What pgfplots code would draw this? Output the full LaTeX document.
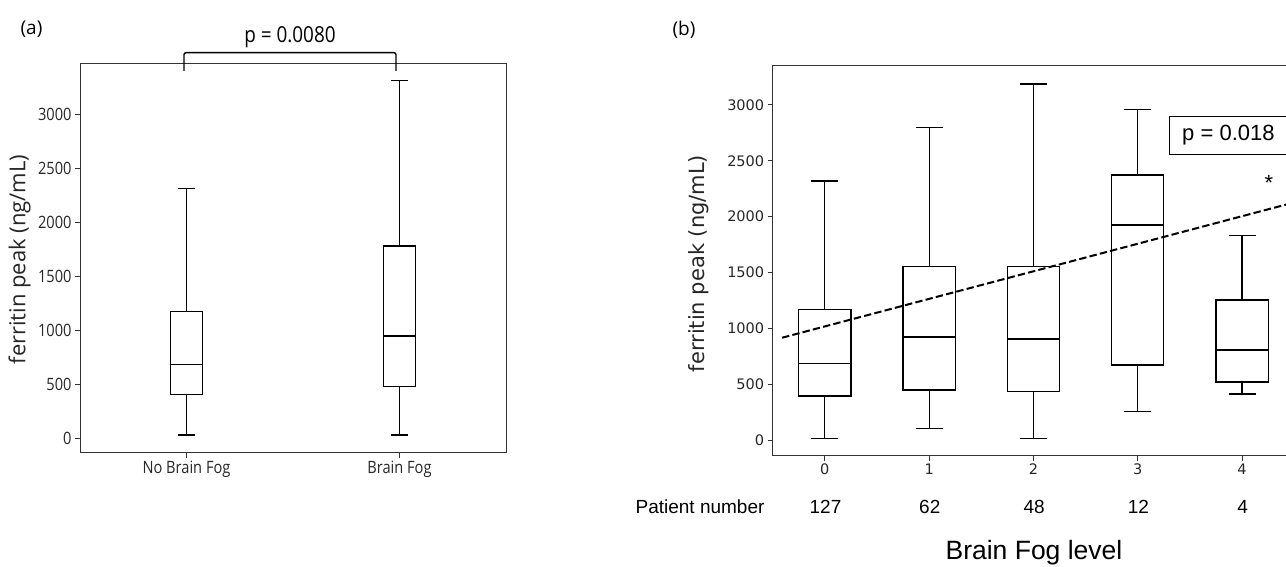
\documentclass[border=0pt]{standalone}
\usepackage{fontspec}
\usepackage{graphicx}
\usepackage{pgfplots}
\pgfplotsset{compat=1.18}
\usepgfplotslibrary{statistics}
\newfontfamily\osans{Open Sans}
\newfontfamily\dvs{DejaVu Sans}
\newfontfamily\lsans{Liberation Sans}
\newcommand\fs[1]{\fontsize{#1}{#1}\selectfont}
\newcommand\sx[1]{\scalebox{0.86}[1]{#1}}

\pgfplotsset{
  panel/.style={
    scale only axis, clip=false,
    axis line style={line width=1pt, black!80},
    tick style={line width=0.8pt, black!80},
    major tick length=5pt, tick align=outside,
    xtick pos=left, ytick pos=left,
    ytick={0,500,...,3000},
    /pgf/number format/assume math mode=true,
    /pgf/number format/1000 sep={},
    boxplot/draw direction=y,
  },
  bx/.style={draw=black, line width=1.2pt, solid, mark=none},
}

\begin{document}
\begin{tikzpicture}[x=1pt,y=1pt]
% panel (a)
\begin{axis}[panel, at={(80pt,113.3pt)}, anchor=south west,
  width=426pt, height=389.4pt,
  xmin=0.5, xmax=2.5, ymin=-136, ymax=3469,
  xtick={1,2}, xticklabels={\sx{No Brain Fog},\sx{Brain Fog}},
  yticklabel={\sx{\pgfmathprintnumber{\tick}}},
  ticklabel style={font=\osans\fs{17}, text=black!85},
  boxplot/box extend=0.15, boxplot/whisker extend=0.08]
\addplot[bx, boxplot prepared={draw position=1, lower whisker=28,
  lower quartile=401, median=682, upper quartile=1170, upper whisker=2312}]
  coordinates {};
\addplot[bx, boxplot prepared={draw position=2, lower whisker=28,
  lower quartile=478, median=944, upper quartile=1778, upper whisker=3312}]
  coordinates {};
\end{axis}

% panel (b)
\begin{axis}[panel, at={(772.7pt,110.3pt)}, anchor=south west,
  width=521.5pt, height=389.7pt,
  xmin=-0.5, xmax=4.5, ymin=-140, ymax=3348,
  xtick={0,1,2,3,4},
  ticklabel style={font=\dvs\fs{14.5}, text=black!85},
  boxplot/box extend=0.5, boxplot/whisker extend=0.26]
\addplot[bx, boxplot prepared={draw position=0, lower whisker=15,
  lower quartile=394, median=687, upper quartile=1167, upper whisker=2319}]
  coordinates {};
\addplot[bx, boxplot prepared={draw position=1, lower whisker=107,
  lower quartile=448, median=922, upper quartile=1552, upper whisker=2799}]
  coordinates {};
\addplot[bx, boxplot prepared={draw position=2, lower whisker=15,
  lower quartile=433, median=904, upper quartile=1552, upper whisker=3187}]
  coordinates {};
\addplot[bx, boxplot prepared={draw position=3, lower whisker=254,
  lower quartile=671, median=1925, upper quartile=2372, upper whisker=2960}]
  coordinates {};
\addplot[bx, boxplot prepared={draw position=4, lower whisker=412,
  lower quartile=519, median=806, upper quartile=1253, upper whisker=1829}]
  coordinates {};
% trend line
\addplot[black, line width=2pt, dash pattern=on 7.4pt off 3.2pt]
  coordinates {(-0.41,916) (4.5,2127)};
\end{axis}

% texts
\node[font=\osans\fs{19}] at (31.5,537) {(a)};
\node[font=\osans\fs{19}] at (684,536) {(b)};
\draw[line width=1.4pt, rounded corners=2pt] (184,495) -- (184,513.3) -- (396,513.3) -- (396,495);
\node[font=\osans\fs{22}, anchor=base] at (290,523) {\sx{p = 0.0080}};
\node[rotate=90, font=\osans\fs{22}, text=black!85] at (19.5,306.5) {ferritin peak (ng/mL)};
\node[rotate=90, font=\dvs\fs{21}, text=black!85] at (699,302.5) {ferritin peak (ng/mL)};
\node[draw, line width=1pt, font=\lsans\fs{22}, inner xsep=12.4pt, minimum height=37.6pt]
  at (1228.4,430.5) {p = 0.018};
\node[font=\lsans\fs{22}, anchor=base] at (1269,375) {*};
\node[font=\lsans\fs{19}, anchor=base east] at (768,53) {Patient number};
\node[font=\lsans\fs{19}, anchor=base] at (825.5,53) {127};
\node[font=\lsans\fs{19}, anchor=base] at (929.8,53) {62};
\node[font=\lsans\fs{19}, anchor=base] at (1034.1,53) {48};
\node[font=\lsans\fs{19}, anchor=base] at (1138.4,53) {12};
\node[font=\lsans\fs{19}, anchor=base] at (1242.7,53) {4};
\node[font=\lsans\fs{26.5}, anchor=base, inner sep=0pt] at (1034,6.5) {Brain Fog level};

\pgfresetboundingbox
\path[use as bounding box] (0,0) rectangle (1286,566);
\end{tikzpicture}
\end{document}
